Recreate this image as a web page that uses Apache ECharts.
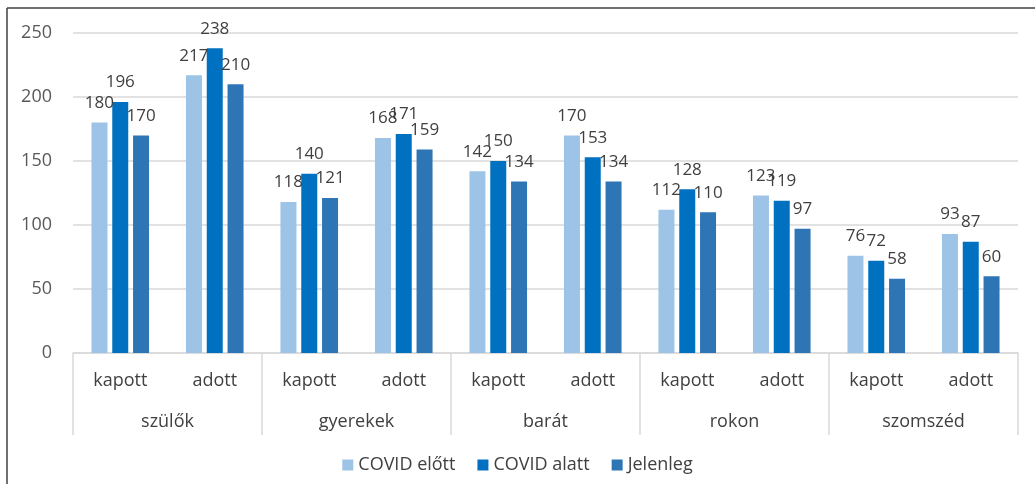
<!DOCTYPE html>
<html><head><meta charset="utf-8">
<script src="https://cdn.jsdelivr.net/npm/echarts@6/dist/echarts.min.js"></script>
<style>html,body{margin:0;padding:0;background:#fff}#c{width:1035px;height:484px}</style>
</head><body><div id="c"></div>
<script>
const subCategories = ['kapott','adott','kapott','adott','kapott','adott','kapott','adott','kapott','adott'];
const groups = ['szülők','gyerekek','barát','rokon','szomszéd'];
const seriesNames = ['COVID előtt','COVID alatt','Jelenleg'];
const covidElott = [180,217,118,168,142,170,112,123,76,93];
const covidAlatt = [196,238,140,171,150,153,128,119,72,87];
const jelenleg = [170,210,121,159,134,134,110,97,58,60];
const yTicks = {min:0, max:250, interval:50};
const colors = ['#9DC3E6','#0070C0','#2E75B6'];
const FONT = 'Open Sans';

const chart = echarts.init(document.getElementById('c'), null, {renderer:'canvas'});
const mk = (name, data, color) => ({
  name, type:'bar', data, xAxisIndex:0, barWidth:16, barGap:'30%',
  itemStyle:{color},
  label:{show:true, position:'top', distance:11, color:'#404040', fontFamily:FONT, fontSize:17}
});
chart.setOption({
  animation:false,
  color: colors,
  grid:{left:73, right:17, top:33, bottom:131},
  legend:{bottom:5, left:'center', itemWidth:11, itemHeight:11, itemGap:22, icon:'rect',
    textStyle:{fontFamily:FONT, fontSize:18, color:'#404040'}, itemStyle:{borderWidth:0}, data:seriesNames},
  xAxis:[
    {type:'category', data:subCategories, position:'bottom',
     axisLine:{show:true, lineStyle:{color:'#d9d9d9', width:1.5}}, axisTick:{show:false},
     axisLabel:{margin:19, color:'#404040', fontFamily:FONT, fontSize:18}},
    {type:'category', data:groups, position:'bottom', offset:0,
     axisLine:{show:false}, axisTick:{show:true, length:82, lineStyle:{color:'#d9d9d9', width:1.5}},
     axisLabel:{margin:60, color:'#404040', fontFamily:FONT, fontSize:18}}
  ],
  yAxis:{type:'value', min:yTicks.min, max:yTicks.max, interval:yTicks.interval,
    axisLine:{show:false}, axisTick:{show:false},
    splitLine:{lineStyle:{color:'#d9d9d9', width:1.5}},
    axisLabel:{margin:21, color:'#595959', fontFamily:FONT, fontSize:18}},
  series:[mk(seriesNames[0], covidElott, colors[0]), mk(seriesNames[1], covidAlatt, colors[1]), mk(seriesNames[2], jelenleg, colors[2])],
  graphic:[
    {type:'line', shape:{x1:7, y1:8, x2:1035, y2:8}, style:{stroke:'#404040', lineWidth:1.5}},
    {type:'line', shape:{x1:7, y1:8, x2:7, y2:484}, style:{stroke:'#404040', lineWidth:1.5}}
  ]
});
</script></body></html>
